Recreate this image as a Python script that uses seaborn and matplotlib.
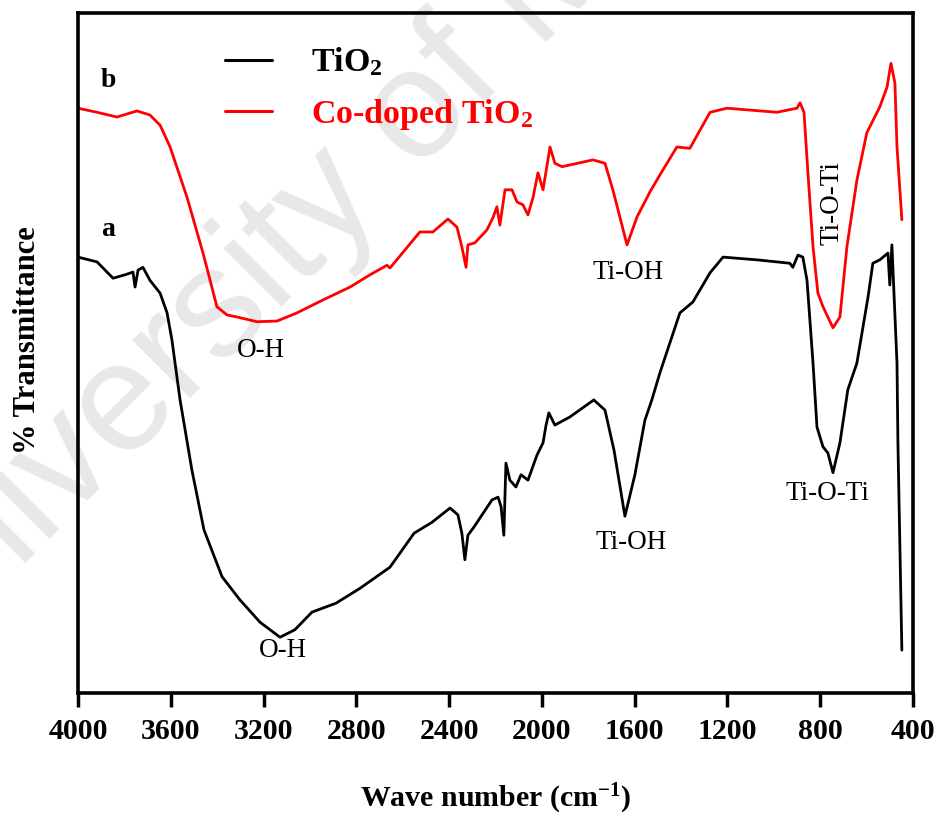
import numpy as np
import pandas as pd
import matplotlib
matplotlib.use("Agg")
import matplotlib.pyplot as plt
import seaborn as sns
from matplotlib.lines import Line2D

# ---------------- data ----------------
wn_codoped = [4000, 3918, 3832, 3746, 3690, 3646, 3603, 3530, 3461, 3401, 3358, 3315,
              3228, 3142, 3056, 2944, 2827, 2741, 2668, 2655, 2526, 2470, 2405, 2366,
              2345, 2327, 2319, 2289, 2237, 2211, 2194, 2181, 2159, 2129, 2107, 2082,
              2060, 2038, 2017, 1995, 1965, 1944, 1913, 1780, 1728, 1694, 1633, 1590,
              1534, 1491, 1418, 1362, 1275, 1202, 987, 900, 887, 870, 853, 831, 810,
              788, 745, 715, 685, 642, 599, 543, 512, 495, 478, 469, 448]
t_codoped = [86.0, 85.4, 84.7, 85.6, 85.0, 83.5, 80.3, 72.9, 64.7, 56.8, 55.6, 55.3,
             54.6, 54.7, 55.9, 57.8, 59.7, 61.5, 62.9, 62.5, 67.8, 67.8, 69.7, 68.5,
             65.6, 62.6, 65.9, 66.2, 68.1, 69.9, 71.5, 68.8, 74.0, 74.0, 72.2, 71.8,
             70.3, 72.9, 76.5, 74.0, 80.3, 77.9, 77.4, 78.4, 77.9, 74.0, 65.9, 70.0,
             73.7, 76.2, 80.3, 80.1, 85.4, 86.0, 85.4, 86.0, 86.8, 85.4, 76.5, 65.6,
             58.8, 56.8, 53.7, 55.3, 65.6, 75.4, 82.4, 86.2, 89.1, 92.6, 89.7, 80.3, 69.6]

wn_tio2 = [4000, 3918, 3849, 3797, 3763, 3754, 3741, 3720, 3690, 3646, 3616, 3595,
           3560, 3509, 3457, 3379, 3302, 3215, 3129, 3065, 2991, 2888, 2784, 2655,
           2551, 2474, 2396, 2362, 2345, 2332, 2319, 2293, 2215, 2189, 2176, 2164,
           2155, 2138, 2112, 2090, 2060, 2021, 1995, 1982, 1970, 1944, 1879, 1776,
           1728, 1689, 1642, 1599, 1556, 1526, 1491, 1405, 1349, 1275, 1219, 1073,
           931, 918, 896, 875, 857, 831, 814, 788, 767, 745, 715, 681, 642, 594,
           573, 543, 508, 500, 491, 469, 465, 448]
t_tio2 = [64.1, 63.4, 61.0, 61.5, 61.9, 59.7, 62.2, 62.6, 60.7, 58.8, 55.9, 51.9,
          43.1, 32.8, 24.0, 17.1, 13.7, 10.4, 8.2, 9.3, 11.9, 13.2, 15.4, 18.5,
          23.5, 25.1, 27.2, 26.2, 23.5, 19.6, 23.2, 24.4, 28.4, 28.8, 27.4, 23.2,
          33.8, 31.3, 30.3, 32.1, 31.3, 35.0, 36.8, 39.4, 41.2, 39.4, 40.6, 43.1,
          41.6, 35.7, 26.0, 32.1, 40.1, 43.1, 47.1, 55.9, 57.5, 61.8, 64.1, 63.7,
          63.2, 62.6, 64.4, 64.1, 60.7, 48.5, 39.1, 36.2, 35.3, 32.4, 36.8, 44.6,
          48.5, 58.2, 63.2, 63.7, 64.7, 60.0, 65.9, 48.5, 36.8, 6.3]

series_names = ["TiO$_2$", "Co-doped TiO$_2$"]
series_colors = ["black", "#ff0000"]
x_ticks = [4000, 3600, 3200, 2800, 2400, 2000, 1600, 1200, 800, 400]

# ---------------- style ----------------
sns.set_theme(style="white")
plt.rcParams['font.family'] = ['Liberation Serif', 'DejaVu Serif']
plt.rcParams['text.color'] = 'black'
plt.rcParams['axes.labelcolor'] = 'black'
plt.rcParams['xtick.color'] = 'black'
plt.rcParams['ytick.color'] = 'black'
plt.rcParams['mathtext.fontset'] = 'custom'
plt.rcParams['mathtext.rm'] = 'Liberation Serif:bold'
plt.rcParams['mathtext.it'] = 'Liberation Serif:bold'
plt.rcParams['mathtext.bf'] = 'Liberation Serif:bold'
plt.rcParams['mathtext.default'] = 'regular'

fig = plt.figure(figsize=(9.42, 8.16), dpi=100)
fig.patch.set_facecolor("white")
ax = fig.add_axes([78/942, 1-693/816, (913-78)/942, (693-13)/816])
ax.patch.set_alpha(0)

# watermark
fig.text(-98/942, 1-686/816, "University of Malaya", family="Liberation Sans",
         fontsize=112, color="#e8e8e8", rotation=45, rotation_mode="anchor",
         ha="left", va="baseline", zorder=-5)

df_a = pd.DataFrame({"wn": wn_tio2, "T": t_tio2})
df_b = pd.DataFrame({"wn": wn_codoped, "T": t_codoped})
sns.lineplot(data=df_a, x="wn", y="T", ax=ax, color=series_colors[0], lw=2.0,
             sort=False, estimator=None)
sns.lineplot(data=df_b, x="wn", y="T", ax=ax, color=series_colors[1], lw=2.0,
             sort=False, estimator=None)

ax.set_xlim(4000, 400)
ax.set_ylim(0, 100)
ax.set_xticks(x_ticks)
ax.set_xticklabels([str(t) for t in x_ticks], fontsize=21.5, fontweight="bold")
ax.set_yticks([])
ax.tick_params(axis="x", direction="out", length=10, width=2.5, pad=8, bottom=True,
               color="black", labelcolor="black")
for s in ax.spines.values():
    s.set_linewidth(2.6)
    s.set_color("black")

ax.set_xlabel("Wave number (cm$^{-1}$)", fontsize=21.5, fontweight="bold", color="black")
ax.xaxis.set_label_coords(0.5, -0.130)
ax.set_ylabel("% Transmittance", fontsize=22, fontweight="bold", color="black")
ax.yaxis.set_label_coords(-0.043, 0.519)

# legend
handles = [Line2D([], [], color=c, lw=2.2) for c in series_colors]
leg = ax.legend(handles, series_names, loc="upper left", frameon=False,
                bbox_to_anchor=(0.139, 0.997), handlelength=1.4, handletextpad=1.15,
                labelspacing=0.55, prop={"family": "Liberation Serif", "weight": "bold", "size": 24.5})
for t, c in zip(leg.get_texts(), series_colors):
    t.set_color(c)

# annotations
ann = dict(fontsize=19.5, ha="center", va="center", color="black")
ax.text(3211, 50.4, "O-H", **ann)
ax.text(1629, 61.8, "Ti-OH", **ann)
ax.text(749, 72.1, "Ti-O-Ti", rotation=90, **ann)
ax.text(3116, 6.3, "O-H", **ann)
ax.text(1616, 22.2, "Ti-OH", **ann)
ax.text(767, 29.4, "Ti-O-Ti", **ann)
ax.text(3871, 90.1, "b", fontsize=20, fontweight="bold", ha="center", va="center", color="black")
ax.text(3871, 68.2, "a", fontsize=20, fontweight="bold", ha="center", va="center", color="black")

fig.savefig("out.png", dpi=100)
